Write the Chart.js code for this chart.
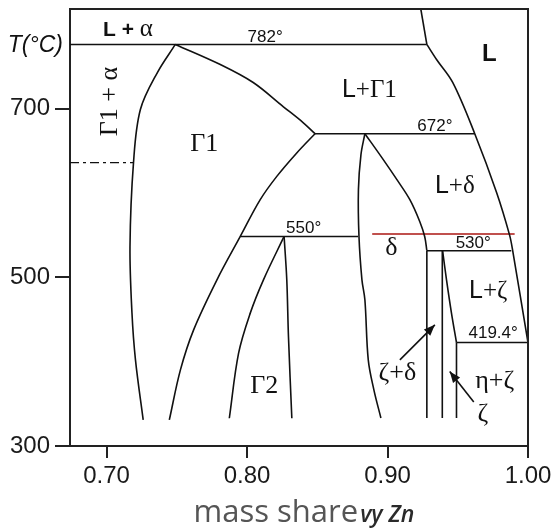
<!DOCTYPE html>
<html>
<head>
<meta charset="utf-8">
<script src="https://cdn.jsdelivr.net/npm/chart.js@4.4.1/dist/chart.umd.min.js"></script>
<style>
  html, body { margin: 0; padding: 0; background: #fff; }
</style>
</head>
<body>
<canvas id="phaseChart" width="560" height="528"></canvas>
<script>
// axes: mass share of Zn vs temperature (°C)
const xMin = 0.674, xMax = 1.0;
const yMin = 300, yMax = 818;
const xTicks = [0.70, 0.80, 0.90, 1.00];
const yTicks = [300, 500, 700];

// phase boundaries, [mass share, T]
const line782 = [[0.674, 776], [0.928, 776]];
const liquidusTop = [[0.9237, 818], [0.928, 776]];
const liquidus = [[0.928, 776], [0.9349, 758.2], [0.9464, 731], [0.9621, 670.2], [0.9777, 600.3], [0.9869, 550], [0.9891, 531.5], [1.0, 422.6]];
const gamma1Left = [[0.749, 776], [0.7362, 742.7], [0.7241, 698.8], [0.7192, 635.9], [0.7167, 536.2], [0.7181, 457.9], [0.7206, 402.1], [0.7261, 330.9]];
const gamma1RightUp = [[0.749, 776], [0.781, 752.2], [0.8044, 730.9], [0.8257, 702.4], [0.8399, 683.4], [0.8484, 670.2]];
const gamma1RightLow = [[0.8484, 670.2], [0.8354, 647.4], [0.8212, 619.6], [0.8094, 592], [0.7952, 548.4], [0.7786, 497], [0.762, 437.7], [0.7526, 390.2], [0.7447, 330.9]];
const line672 = [[0.8484, 670.2], [0.9621, 670.2]];
const line550 = [[0.7952, 548.4], [0.879, 548.4]];
const gamma2Left = [[0.8264, 548.4], [0.8117, 497], [0.8023, 457.5], [0.794, 410], [0.7874, 332.9]];
const gamma2Right = [[0.8264, 548.4], [0.8283, 497], [0.8295, 429.7], [0.8319, 332.9]];
const deltaLeft = [[0.8839, 670.2], [0.8811, 645.4], [0.8793, 603.9], [0.8797, 548.1], [0.8818, 497], [0.8839, 473.3], [0.8863, 402.1], [0.8903, 366.5], [0.8953, 333.2]];
const deltaRight = [[0.8839, 670.2], [0.896, 641.8], [0.9067, 615.7], [0.9159, 592], [0.923, 565.9], [0.9265, 548.1], [0.928, 531.5]];
const deltaVert = [[0.928, 531.5], [0.928, 333.2]];
const line530 = [[0.928, 531.5], [0.9881, 531.5]];
const zetaLeft = [[0.939, 531.5], [0.939, 333.2]];
const zetaRight = [[0.9392, 531.5], [0.942, 497], [0.9455, 457.9], [0.9491, 422.6]];
const zetaVert = [[0.9491, 422.6], [0.9491, 333.2]];
const line419 = [[0.9491, 422.6], [1.0, 422.6]];
const dashDot = [[0.674, 635.9], [0.7192, 635.9]];
const redLine = [[0.8891, 551.3], [0.9905, 551.3]];
const arrowZetaDelta = [[0.9088, 402.1], [0.9337, 443.6]];
const arrowZeta = [[0.9614, 352.2], [0.9443, 388.2]];

// region and temperature labels: text, x, baseline T
const regionLabels = [
  ['Γ1', 0.7696, 650],
  ['Γ2', 0.8122, 362.9],
  ['δ', 0.9028, 526.7],
  ['ζ+δ', 0.907, 378.3],
  ['η+ζ', 0.9763, 368.8],
  ['ζ', 0.9678, 329.7]
];
const liquidLabels = [
  ['+Γ1', 0.8871, 713.1],
  ['+δ', 0.9479, 600.3],
  ['+ζ', 0.9717, 475.7]
];
const tempLabels = [
  ['782°', 0.8129, 778.3],
  ['672°', 0.9337, 673.9],
  ['550°', 0.8403, 552.8],
  ['530°', 0.961, 535],
  ['419.4°', 0.9752, 428.2]
];

const SANS = '"Liberation Sans", Arial, sans-serif';
const SERIF = '"Liberation Serif", "Times New Roman", serif';

function pts(arr) {
  return arr.map(p => ({ x: p[0], y: p[1] }));
}

function boundary(arr, curved) {
  return {
    data: pts(arr),
    showLine: true,
    borderColor: '#111',
    borderWidth: 1.6,
    pointRadius: 0,
    tension: curved ? 0.35 : 0
  };
}

const datasets = [
  boundary(line782), boundary(liquidusTop), boundary(liquidus, true),
  boundary(gamma1Left, true), boundary(gamma1RightUp, true), boundary(gamma1RightLow, true),
  boundary(line672), boundary(line550),
  boundary(gamma2Left, true), boundary(gamma2Right, true),
  boundary(deltaLeft, true), boundary(deltaRight, true), boundary(deltaVert),
  boundary(line530), boundary(zetaLeft), boundary(zetaRight, true), boundary(zetaVert),
  boundary(line419),
  boundary(arrowZetaDelta), boundary(arrowZeta)
];
const dd = boundary(dashDot);
dd.borderDash = [9, 4, 3, 4];
dd.borderWidth = 1.4;
datasets.push(dd);
const red = boundary(redLine);
red.borderColor = '#c0504d';
red.borderWidth = 2;
datasets.push(red);

// draws text made of several font runs, centred on cx
function richText(ctx, parts, cx, by) {
  let w = 0;
  parts.forEach(p => { ctx.font = p[1]; w += ctx.measureText(p[0]).width; });
  let x = cx - w / 2;
  parts.forEach(p => {
    ctx.font = p[1];
    ctx.fillText(p[0], x, by);
    x += ctx.measureText(p[0]).width;
  });
}

function arrowHead(ctx, x0, y0, x1, y1) {
  const ang = Math.atan2(y1 - y0, x1 - x0);
  const len = 11, half = 4.5;
  ctx.beginPath();
  ctx.moveTo(x1, y1);
  ctx.lineTo(x1 - len * Math.cos(ang) + half * Math.sin(ang), y1 - len * Math.sin(ang) - half * Math.cos(ang));
  ctx.lineTo(x1 - len * Math.cos(ang) - half * Math.sin(ang), y1 - len * Math.sin(ang) + half * Math.cos(ang));
  ctx.closePath();
  ctx.fill();
}

const phaseText = {
  id: 'phaseText',
  afterDatasetsDraw(chart) {
    const { ctx, chartArea: a, scales: { x, y } } = chart;
    ctx.save();

    // frame on top and right
    ctx.strokeStyle = '#222';
    ctx.lineWidth = 2;
    ctx.beginPath();
    ctx.moveTo(a.left, a.top);
    ctx.lineTo(a.right, a.top);
    ctx.lineTo(a.right, a.bottom);
    ctx.stroke();

    ctx.fillStyle = '#111';
    ctx.textBaseline = 'alphabetic';
    ctx.textAlign = 'left';

    regionLabels.forEach(l => {
      richText(ctx, [[l[0], '26px ' + SERIF]], x.getPixelForValue(l[1]), y.getPixelForValue(l[2]));
    });
    liquidLabels.forEach(l => {
      richText(ctx, [['L', '25px ' + SANS], [l[0], '25px ' + SERIF]], x.getPixelForValue(l[1]), y.getPixelForValue(l[2]));
    });
    tempLabels.forEach(l => {
      richText(ctx, [[l[0], '17px ' + SANS]], x.getPixelForValue(l[1]), y.getPixelForValue(l[2]));
    });
    richText(ctx, [['L + ', 'bold 21px ' + SANS], ['α', '25px ' + SERIF]], x.getPixelForValue(0.7153), y.getPixelForValue(785.5));
    richText(ctx, [['L', 'bold 24px ' + SANS]], x.getPixelForValue(0.9724), y.getPixelForValue(755.8));

    // rotated Γ1 + α
    ctx.save();
    ctx.translate(x.getPixelForValue(0.7028), y.getPixelForValue(708.3));
    ctx.rotate(-Math.PI / 2);
    ctx.textBaseline = 'middle';
    richText(ctx, [['Γ1 + α', '26px ' + SERIF]], 0, 0);
    ctx.restore();

    // arrow heads
    [arrowZetaDelta, arrowZeta].forEach(ar => {
      arrowHead(ctx, x.getPixelForValue(ar[0][0]), y.getPixelForValue(ar[0][1]),
        x.getPixelForValue(ar[1][0]), y.getPixelForValue(ar[1][1]));
    });

    // axis unit on the left
    ctx.textAlign = 'right';
    ctx.font = 'italic 23px ' + SANS;
    ctx.fillText('T(°C)', a.left - 7, y.getPixelForValue(766.5));
    ctx.textAlign = 'left';

    // x axis title
    const cx = (a.left + a.right) / 2 + 5;
    ctx.fillStyle = '#555';
    ctx.font = '31px "Open Sans", sans-serif';
    const w1 = ctx.measureText('mass share').width;
    ctx.font = 'italic 600 23px "Open Sans", sans-serif';
    const w2 = ctx.measureText('vy Zn').width;
    const sx = cx - (w1 + w2 + 2) / 2;
    ctx.font = '31px "Open Sans", sans-serif';
    ctx.fillText('mass share', sx, 521.5);
    ctx.fillStyle = '#2a2a2a';
    ctx.font = 'italic 600 23px "Open Sans", sans-serif';
    ctx.fillText('vy Zn', sx + w1 + 2, 521.5);

    ctx.restore();
  }
};

new Chart(document.getElementById('phaseChart'), {
  type: 'scatter',
  data: { datasets: datasets },
  options: {
    responsive: false,
    animation: false,
    layout: { padding: { top: 9, right: 32, left: 0, bottom: 0 } },
    plugins: { legend: { display: false }, tooltip: { enabled: false } },
    scales: {
      x: {
        type: 'linear',
        min: xMin,
        max: xMax,
        afterBuildTicks: s => { s.ticks = xTicks.map(v => ({ value: v })); },
        afterFit: s => { s.height = 82; s.paddingLeft = 0; s.paddingRight = 0; },
        ticks: {
          callback: v => v.toFixed(2),
          font: { family: SANS, size: 24 },
          color: '#1a1a1a',
          padding: 4,
          maxRotation: 0,
          autoSkip: false
        },
        grid: { drawOnChartArea: false, tickLength: 12, color: '#222', lineWidth: 2 },
        border: { color: '#222', width: 2 }
      },
      y: {
        type: 'linear',
        min: yMin,
        max: yMax,
        afterBuildTicks: s => { s.ticks = yTicks.map(v => ({ value: v })); },
        afterFit: s => { s.width = 70; s.paddingTop = 0; s.paddingBottom = 0; },
        ticks: {
          font: { family: SANS, size: 24 },
          color: '#1a1a1a',
          padding: 5
        },
        grid: { drawOnChartArea: false, tickLength: 15, color: '#222', lineWidth: 2 },
        border: { color: '#222', width: 2 }
      }
    }
  },
  plugins: [phaseText]
});
</script>
</body>
</html>
